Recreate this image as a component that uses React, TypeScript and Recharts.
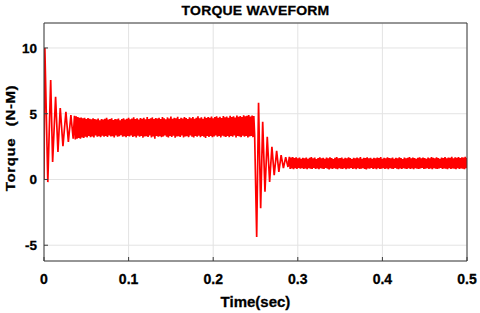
import React from 'react';
import { LineChart, Line, XAxis, YAxis, CartesianGrid } from 'recharts';

// Axis ticks
const xTicks = [0, 0.1, 0.2, 0.3, 0.4, 0.5];
const yTicks = [-5, 0, 5, 10];

// Start-up transient (time in s, torque in N-M)
const startupTime = [0, 0.001, 0.0045, 0.0079, 0.0102, 0.0137, 0.0165, 0.0192, 0.0224, 0.0259, 0.0288, 0.0318, 0.0345];
const startupTorque = [0, 10.0, -0.2, 7.56, 1.34, 6.29, 2.1, 5.43, 2.54, 5.15, 2.86, 4.9, 3.1];

// Sampling interval of the steady bands
const sampleStep = 0.001;

// Steady band before the load step, from t = 0.036 s
const band1Start = 0.036;
const band1Torque = [
  4.85, 3.05, 4.8, 3.1, 4.75, 3.15, 4.7, 3.1, 4.72, 3.2, 4.65, 3.15, 4.7, 3.25, 4.6, 3.2, 4.68, 3.3, 4.62, 3.22,
  4.58, 3.28, 4.66, 3.2, 4.6, 3.35, 4.55, 3.25, 4.64, 3.3, 4.5, 3.22, 4.6, 3.32, 4.56, 3.26, 4.62, 3.3, 4.7, 3.24,
  4.55, 3.35, 4.6, 3.28, 4.66, 3.3, 4.52, 3.2, 4.6, 3.34, 4.58, 3.26, 4.63, 3.3, 4.5, 3.36, 4.6, 3.25, 4.66, 3.3,
  4.56, 3.22, 4.62, 3.3, 4.7, 3.28, 4.58, 3.35, 4.64, 3.24, 4.72, 3.3, 4.6, 3.2, 4.66, 3.32, 4.55, 3.26, 4.68, 3.3,
  4.62, 3.18, 4.7, 3.28, 4.58, 3.3, 4.75, 3.24, 4.6, 3.34, 4.66, 3.2, 4.72, 3.28, 4.6, 3.1, 4.68, 3.3, 4.64, 3.25,
  4.7, 3.3, 4.6, 3.22, 4.74, 3.28, 4.66, 3.35, 4.58, 3.26, 4.72, 3.2, 4.64, 3.3, 4.78, 3.24, 4.62, 3.32, 4.7, 3.18,
  4.66, 3.28, 4.76, 3.3, 4.6, 3.24, 4.7, 3.34, 4.64, 3.2, 4.74, 3.28, 4.68, 3.3, 4.6, 3.22, 4.72, 3.35, 4.66, 3.26,
  4.74, 3.2, 4.62, 3.3, 4.7, 3.25, 4.8, 3.32, 4.66, 3.22, 4.72, 3.3, 4.62, 3.26, 4.76, 3.15, 4.68, 3.3, 4.74, 3.24,
  4.7, 3.3, 4.78, 3.22, 4.66, 3.28, 4.75, 3.35, 4.8, 3.26, 4.7, 3.3, 4.76, 3.2, 4.68, 3.32, 4.82, 3.28, 4.72, 3.24,
  4.78, 3.3, 4.7, 3.22, 4.84, 3.3, 4.74, 3.26, 4.8, 3.34, 4.72, 3.2, 4.86, 3.3, 4.76, 3.28, 4.82, 3.22, 4.74, 3.32,
  4.88, 3.25, 4.8, 3.3, 4.85, 3.2, 4.9, 3.28, 4.78, 3.3, 4.86, 3.22, 4.82, 3.35,
];

// Load-step transient
const stepTime = [0.2514, 0.2536, 0.2561, 0.2585, 0.2612, 0.2639, 0.2667, 0.2694, 0.2721, 0.275, 0.2776, 0.2803, 0.283, 0.2857, 0.2884];
const stepTorque = [-4.37, 5.83, -2.19, 4.39, -0.94, 3.24, -0.18, 2.48, 0.33, 2.18, 0.58, 1.85, 0.86, 1.7, 0.95];

// Steady band after the load step, from t = 0.290 s
const band2Start = 0.29;
const band2Torque = [
  1.72, 0.8, 1.66, 0.84, 1.7, 0.78, 1.62, 0.86, 1.68, 0.8, 1.6, 0.88, 1.66, 0.82, 1.58, 0.86, 1.64, 0.8, 1.6, 0.84,
  1.66, 0.78, 1.58, 0.86, 1.64, 0.82, 1.7, 0.8, 1.6, 0.88, 1.66, 0.8, 1.56, 0.84, 1.62, 0.78, 1.68, 0.86, 1.6, 0.82,
  1.64, 0.8, 1.58, 0.88, 1.66, 0.82, 1.6, 0.76, 1.68, 0.84, 1.62, 0.8, 1.56, 0.86, 1.64, 0.82, 1.7, 0.78, 1.6, 0.86,
  1.62, 0.82, 1.66, 0.8, 1.58, 0.86, 1.64, 0.78, 1.6, 0.84, 1.68, 0.82, 1.62, 0.88, 1.56, 0.8, 1.64, 0.84, 1.6, 0.78,
  1.66, 0.86, 1.6, 0.8, 1.7, 0.82, 1.58, 0.86, 1.64, 0.8, 1.62, 0.76, 1.68, 0.84, 1.6, 0.82, 1.64, 0.88, 1.58, 0.8,
  1.64, 0.84, 1.6, 0.78, 1.66, 0.86, 1.62, 0.8, 1.7, 0.82, 1.58, 0.86, 1.64, 0.8, 1.6, 0.84, 1.68, 0.78, 1.62, 0.86,
  1.6, 0.82, 1.66, 0.8, 1.58, 0.88, 1.64, 0.82, 1.6, 0.78, 1.68, 0.84, 1.62, 0.8, 1.56, 0.86, 1.66, 0.82, 1.6, 0.8,
  1.64, 0.86, 1.7, 0.8, 1.6, 0.84, 1.66, 0.78, 1.62, 0.86, 1.58, 0.82, 1.64, 0.8, 1.68, 0.84, 1.6, 0.88, 1.66, 0.8,
  1.62, 0.82, 1.58, 0.86, 1.66, 0.8, 1.6, 0.84, 1.7, 0.78, 1.64, 0.86, 1.6, 0.82, 1.68, 0.8, 1.62, 0.84, 1.58, 0.88,
  1.66, 0.8, 1.62, 0.84, 1.7, 0.82, 1.6, 0.78, 1.66, 0.86, 1.64, 0.8, 1.72, 0.84, 1.6, 0.82, 1.68, 0.78, 1.64, 0.86,
  1.7, 0.8, 1.62, 0.84, 1.68, 0.82, 1.66, 0.78, 1.72, 0.86, 1.64,
];

const r4 = (x: number) => Math.round(x * 10000) / 10000;

const data = [
  ...startupTime.map((t, i) => ({ t, v: startupTorque[i] })),
  ...band1Torque.map((v, i) => ({ t: r4(band1Start + i * sampleStep), v })),
  ...stepTime.map((t, i) => ({ t, v: stepTorque[i] })),
  ...band2Torque.map((v, i) => ({ t: r4(band2Start + i * sampleStep), v })),
];

const FONT = '"Liberation Sans", Arial, Helvetica, sans-serif';
const AXIS = '#3a3a3a';

const TitleLabel = (props: any) => {
  const vb = props.viewBox || {};
  const cx = vb.x + vb.width / 2;
  return (
    <text
      transform={`translate(${cx}, 15) scale(1, 0.88)`}
      textAnchor="middle"
      fontFamily={FONT}
      fontWeight={700}
      fontSize={14}
      letterSpacing={0.2}
      fill="#000"
      stroke="#000"
      strokeWidth={0.3}
    >
      TORQUE WAVEFORM
    </text>
  );
};

const YTitle = (props: any) => {
  const vb = props.viewBox || {};
  const cy = vb.y + vb.height / 2 - 4;
  return (
    <text
      transform={`translate(15, ${cy}) rotate(-90) scale(1, 0.82)`}
      textAnchor="middle"
      fontFamily={FONT}
      fontWeight={700}
      fontSize={15}
      letterSpacing={0.6}
      wordSpacing={7}
      fill="#000"
      stroke="#000"
      strokeWidth={0.3}
    >
      Torque (N-M)
    </text>
  );
};

const XTitle = (props: any) => {
  const vb = props.viewBox || {};
  const cx = vb.x + vb.width / 2;
  return (
    <text x={cx} y={306.5} textAnchor="middle" fontFamily={FONT} fontWeight={700} fontSize={15} fill="#000" stroke="#000" strokeWidth={0.3}>
      Time(sec)
    </text>
  );
};

export default function App() {
  return (
    <div style={{ position: 'absolute', left: 0, top: 0, width: 480, height: 313, background: '#fff' }}>
      <LineChart width={480} height={313} data={data} margin={{ top: 0, right: 0, bottom: 0, left: 0 }}>
        <CartesianGrid xAxisId="b" yAxisId="l" stroke="#e3e3e3" strokeWidth={1} />
        <XAxis
          xAxisId="b"
          dataKey="t"
          type="number"
          domain={[0, 0.5]}
          ticks={xTicks}
          allowDataOverflow
          height={52}
          axisLine={{ stroke: AXIS, strokeWidth: 1 }}
          tickLine={{ stroke: AXIS }}
          tickSize={-4}
          tickMargin={17}
          tick={{ fill: '#000', fontSize: 14, fontWeight: 700, fontFamily: FONT, stroke: '#000', strokeWidth: 0.3 }}
          label={<XTitle />}
        />
        <XAxis
          xAxisId="t"
          orientation="top"
          dataKey="t"
          type="number"
          domain={[0, 0.5]}
          ticks={xTicks}
          allowDataOverflow
          height={23}
          axisLine={{ stroke: AXIS, strokeWidth: 1 }}
          tickLine={{ stroke: AXIS }}
          tickSize={-4}
          tick={false}
          label={<TitleLabel />}
        />
        <YAxis
          yAxisId="l"
          type="number"
          domain={[-6.2, 11.9]}
          ticks={yTicks}
          allowDataOverflow
          width={44}
          axisLine={{ stroke: AXIS, strokeWidth: 1 }}
          tickLine={{ stroke: AXIS }}
          tickSize={-4}
          tickMargin={11}
          tick={{ fill: '#000', fontSize: 13.5, fontWeight: 700, fontFamily: FONT, stroke: '#000', strokeWidth: 0.3 }}
          label={<YTitle />}
        />
        <YAxis
          yAxisId="r"
          orientation="right"
          type="number"
          domain={[-6.2, 11.9]}
          ticks={yTicks}
          allowDataOverflow
          width={13}
          axisLine={{ stroke: AXIS, strokeWidth: 1 }}
          tickLine={{ stroke: AXIS }}
          tickSize={-4}
          tick={false}
        />
        <Line
          xAxisId="b"
          yAxisId="l"
          dataKey="v"
          type="linear"
          stroke="#ff0000"
          strokeWidth={1.7}
          dot={false}
          activeDot={false}
          isAnimationActive={false}
        />
      </LineChart>
    </div>
  );
}
